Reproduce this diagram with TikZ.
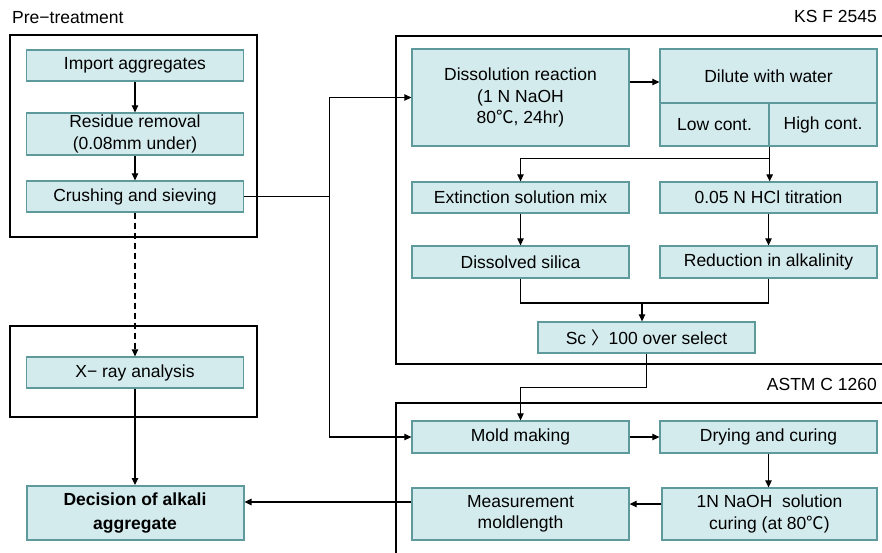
\documentclass[tikz,border=0pt]{standalone}
\usepackage{fontspec}
\setmainfont{Liberation Sans}
\newfontfamily\cjk{Noto Sans CJK KR}
\usetikzlibrary{arrows.meta, positioning}

\definecolor{boxfill}{HTML}{D4EBEE}
\definecolor{boxline}{HTML}{5E9A9C}

\tikzset{
  stepbox/.style={draw=boxline, fill=boxfill, line width=1.3pt, align=center,
    minimum width=217pt, minimum height=31pt, inner sep=1pt,
    font=\fontsize{17.5}{21.5}\selectfont},
  frame/.style={draw=black, line width=2.3pt},
  conn/.style={draw=black, line width=1.1pt},
  arr/.style={conn, -{Triangle[length=7pt,width=6.5pt]}},
  label/.style={font=\fontsize{17.5}{20}\selectfont, inner sep=0pt}
}

\begin{document}
\begin{tikzpicture}[x=1pt, y=-1pt]
  \useasboundingbox (0,0) rectangle (882,552);
  \clip (0,0) rectangle (882,552);
  % frames
  \draw[frame] (10,35) rectangle (257,237);
  \draw[frame] (10,326) rectangle (257,417);
  \draw[frame] (396,36) rectangle (895,364);
  \draw[frame] (396,403) rectangle (895,570);
  % titles
  \node[label, anchor=west] (tpre) at (12,18) {Pre−treatment};
  \node[label, anchor=east] (tks) at (877,16) {KS F 2545};
  \node[label, anchor=east] (tastm) at (877,384) {ASTM C 1260};
  % pre-treatment
  \node[stepbox] (imp) at (135,65.5) {Import aggregates};
  \node[stepbox, minimum height=42pt] (res) at (135,134) {Residue removal\\(0.08mm under)};
  \node[stepbox] (cru) at (135,196.5) {Crushing and sieving};
  \node[stepbox] (xray) at (135,372.5) {X− ray analysis};
  \node[stepbox, minimum height=54pt, line width=2pt, font=\fontsize{17.5}{24}\selectfont\bfseries] (dec) at (135,513) {Decision of alkali\\aggregate};
  % KS F 2545
  \node[stepbox, minimum height=97pt] (dis) at (520.5,97.5) {Dissolution reaction\\(1 N NaOH\\80{\cjk ℃}, 24hr)};
  \node[stepbox, minimum height=54pt] (dil) at (768.5,76) {Dilute with water};
  \node[stepbox, minimum width=109pt, minimum height=43pt] (low) at (714.5,124.5) {Low cont.};
  \node[stepbox, minimum width=108pt, minimum height=43pt] (high) at (823,124.5) {High cont.};
  \node[stepbox] (ext) at (520.5,197.5) {Extinction solution mix};
  \node[stepbox] (hcl) at (768.5,197.5) {0.05 N HCl titration};
  \node[stepbox, minimum height=32pt] (sil) at (520.5,262) {Dissolved silica};
  \node[stepbox, minimum height=32pt] (red) at (768.5,262) {Reduction in alkalinity};
  \node[stepbox] (sc) at (646.5,337.5) {Sc {\cjk 〉}100 over select};
  % ASTM C 1260
  \node[stepbox, minimum height=32pt] (mold) at (520.5,437) {Mold making};
  \node[stepbox, minimum height=32pt] (dry) at (768.5,437) {Drying and curing};
  \node[stepbox, minimum height=52pt] (mea) at (520.5,514) {Measurement\\moldlength};
  \node[stepbox, minimum width=215pt, minimum height=52pt] (naoh) at (769.5,514) {1N NaOH\ \ solution\\curing (at 80{\cjk ℃})};
  % connectors
  \draw[arr] (imp) -- (res);
  \draw[arr] (res) -- (cru);
  \draw[arr, dash pattern=on 6pt off 4pt] (cru) -- (xray);
  \draw[arr] (xray) -- (dec);
  \draw[conn] (cru.east) -- ++(85,0) coordinate (jn);
  \draw[arr] (jn) |- (dis.west);
  \draw[arr] (jn) |- (mold.west);
  \draw[arr] ([yshift=15.5pt]dis.east) -- ([yshift=15.5pt]dis.east -| dil.west);
  \draw[conn] (low.south east) -- ++(0,12) coordinate (br);
  \draw[arr] (br) -| (ext.north);
  \draw[arr] (br) -- (br |- hcl.north);
  \draw[arr] (ext) -- (sil);
  \draw[arr] (hcl) -- (red);
  \coordinate (mg) at (642,303);
  \draw[conn] (sil.south) |- (mg) -| (red.south);
  \draw[arr] (mg) -- (mg |- sc.north);
  \draw[arr] (sc.south) -- ++(0,34) -| (mold.north);
  \draw[arr] (mold) -- (dry);
  \draw[arr] (dry.south) -- (dry.south |- naoh.north);
  \draw[arr] ([yshift=10pt]naoh.west) -- ([yshift=10pt]naoh.west -| mea.east);
  \draw[arr] ([yshift=12pt]mea.west) -- ([yshift=12pt]mea.west -| dec.east);
\end{tikzpicture}
\end{document}
